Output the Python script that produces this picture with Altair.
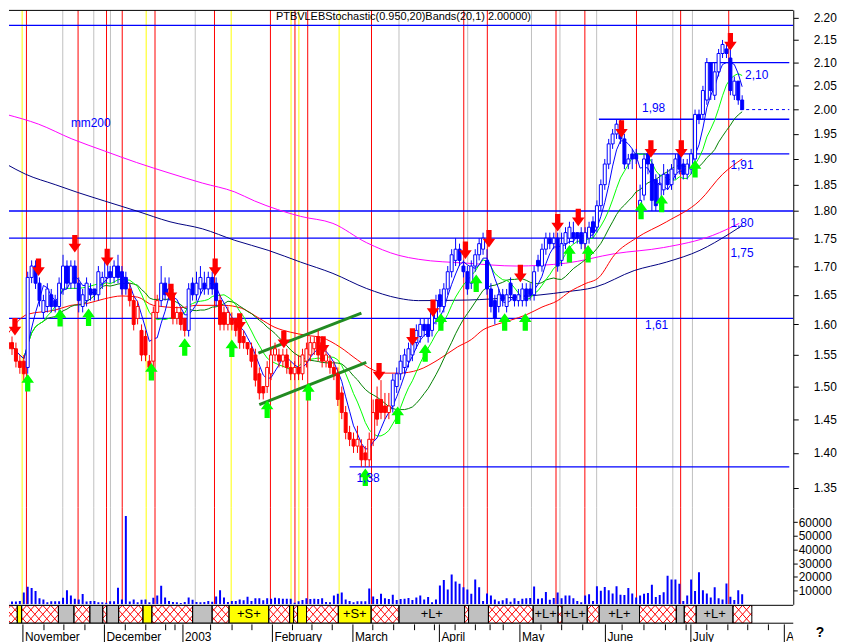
import math
import altair as alt
import pandas as pd

FONT = "Liberation Sans"

# ---------------- candles: one bar per trading day (price in cents) ----------------
OPEN = [156,157,156,154,154,153,168,170,167,162,
        163,165,164,163,166,170,167,170,167,163,
        164,166,166,165,167,168,169,168,170,169,
        168,166,164,161,159,158,154,154,162,164,
        167,165,165,161,162,161,159,167,165,166,
        167,166,168,167,164,162,160,161,161,160,
        158,157,156,155,152,150,150,152,155,155,
        154,155,153,152,153,152,154,155,156,158,
        157,154,154,153,152,149,146,143,142,141,
        141,140,139,142,148,148,147,146,147,150,
        152,153,154,155,157,158,160,160,159,161,
        165,163,166,169,171,173,170,169,167,170,
        172,173,171,166,164,163,165,163,167,165,
        164,164,166,166,165,171,170,173,175,174,
        175,171,174,175,176,176,176,174,175,178,
        177,181,185,189,193,195,196,194,189,191,
        191,181,183,191,189,186,182,184,187,185,
        187,191,189,187,188,190,199,199,202,210,
        203,208,212,213,211,203,206,202]
HIGH = [158,158,157,155,155,169,171,171,168,165,
        167,166,165,168,172,171,171,171,168,166,
        168,167,166,170,169,172,170,171,172,170,
        169,167,165,164,160,159,155,163,165,170,
        168,168,166,163,163,161,167,168,169,170,
        169,169,169,168,165,163,163,162,161,160,
        159,157,157,156,153,150,154,156,157,156,
        156,156,154,154,155,156,157,158,158,159,
        158,156,155,154,153,150,147,144,143,144,
        142,141,143,148,150,151,149,149,152,153,
        155,156,157,158,160,161,161,161,163,165,
        166,167,170,173,175,174,171,170,171,173,
        175,176,173,167,165,166,166,166,168,165,
        166,167,167,167,170,172,174,176,176,176,
        176,176,177,178,178,176,177,177,178,179,
        182,186,190,194,196,198,198,195,191,192,
        192,185,191,192,190,187,187,189,188,189,
        191,192,190,190,192,200,200,205,211,210,
        210,213,215,214,213,207,206,203]
LOW = [155,155,153,152,151,152,167,166,163,161,
       162,162,162,162,165,166,166,166,162,162,
       163,164,164,164,166,167,167,167,167,165,
       165,163,159,160,154,154,152,153,161,163,
       164,164,160,160,159,158,158,164,164,165,
       165,165,165,163,159,159,159,159,158,156,
       156,155,153,150,148,148,149,151,154,153,
       153,152,151,151,151,151,153,154,155,154,
       153,153,152,151,147,145,142,141,140,140,
       138,138,138,141,144,145,145,145,146,149,
       151,152,153,154,156,157,158,157,158,160,
       162,162,165,168,170,170,168,165,166,169,
       171,172,165,162,160,162,163,162,164,163,
       163,163,163,164,164,169,169,172,173,173,
       169,170,173,174,174,174,173,173,174,175,
       176,180,184,188,192,194,193,188,188,188,
       189,180,182,187,180,180,181,183,184,184,
       186,187,186,186,187,189,197,198,201,202,
       202,207,211,211,203,202,201,200]
CLOSE = [157,156,154,153,152,168,170,167,164,164,
         166,163,163,167,170,167,170,167,164,165,
         167,165,165,169,168,171,168,170,168,166,
         166,164,160,163,155,155,153,162,164,167,
         165,166,161,162,160,159,166,165,167,168,
         166,168,166,164,160,160,162,160,159,157,
         157,156,154,151,149,149,153,155,156,154,
         155,153,152,153,152,155,156,157,157,155,
         154,155,153,152,148,146,143,142,141,142,
         139,139,142,146,145,146,146,147,151,152,
         154,155,156,157,159,160,159,158,162,164,
         163,166,169,172,173,171,169,166,170,172,
         174,175,166,163,161,165,164,165,165,164,
         165,166,164,165,169,170,173,175,174,175,
         170,174,176,177,175,175,174,176,177,176,
         181,185,189,193,195,197,194,189,190,190,
         190,182,190,189,182,181,185,187,185,188,
         190,188,187,189,191,199,198,204,210,204,
         208,212,214,212,204,206,202,200]
# volume in thousands of shares
VOLUME_K_A = [2, 2, 2, 2.5, 8.7, 12.9, 12, 9.7, 4.4, 3.6,
              1.5, 2.2, 2.2, 2.2, 4.8, 10.2, 6.5, 4.1, 3.5, 7.5,
              2, 2.5, 2.5, 1.5, 1.5, 1.2, 2.2, 2.2, 12.1, 3.6,
              64.5, 2, 3.6, 1.5, 3.4, 3.6, 1.5, 4.8, 6.5, 13.6,
              5, 2.5, 1.7, 1.5, 1, 1.7, 5, 3.4, 1.7, 1.5,
              1.7, 2.5, 1.9, 5.8, 10.2, 5, 1.7, 2.5, 2.5, 3.6,
              2.9, 5.6, 2.5, 4.4, 4.4, 2.9, 4.4, 4.1, 4.8, 4.4,
              4.1, 4.1, 4.1, 1.2, 2.2, 3.1, 4.4, 3.9, 4.1, 3.9,
              4.4, 1.7, 1.5, 6.5, 7.7, 8.7, 3.6, 2.4, 1.5, 2.2,
              2.2, 2.2, 11.6, 5.8, 3.9, 7.7, 4.4, 3.9, 7, 3.1,
              3.9, 4.1, 4.6, 3.2, 5.0]
VOLUME_K_B = [6.5, 3.6, 5.3, 1.5, 3.6, 13.8, 17.7, 10.9, 21.8, 16.7,
              15, 12.4, 10.9, 7.8, 18.2, 12.4, 2.4, 8, 6.5, 3.6,
              2.2, 2.9, 4.4, 1.9, 4.4, 2.4, 4.1, 4.4, 4.6, 13.1,
              4.1, 4.4, 9, 3.4, 4.6, 8.7, 4.4, 6.5, 6.5, 4.4,
              2.4, 1.5, 6.5, 7.3, 2.4, 13.3, 10, 12.6, 10.2, 8,
              13.3, 7, 6.8, 11.9, 8, 4.9, 6.5, 7.7, 8.3, 14.3,
              5.3, 6.8, 8.9, 20.8, 18.2, 18.2, 15, 2.4, 6.5, 18.2,
              9.7, 23.5, 10.2, 8, 4.9, 12.4, 4.4, 3.6, 15.3, 5.6,
              3.2, 10.2, 7.3]
# stretches of bars drawn in red (down-trend colouring)
RED_SEGMENTS = [(0, 4), (31, 38), (42, 45), (54, 97)]

# ---------------- moving averages ----------------
MA_RED_U = [0, 5, 12, 16, 20, 24.5, 29, 33, 37, 44, 48, 55, 59.5, 64, 68, 72, 76, 80, 84.5, 89,
            93, 96, 99.5, 104.5, 109.5, 114.5, 118, 121, 124, 128, 132, 136, 140, 143, 147,
            150.5, 154.5, 160, 167.75, 176.25, 182, 187]
MA_RED_P = [1.585, 1.617, 1.624, 1.632, 1.635, 1.643, 1.648, 1.646, 1.632, 1.628, 1.632, 1.632,
            1.627, 1.610, 1.595, 1.587, 1.582, 1.578, 1.563, 1.542, 1.526, 1.521, 1.521, 1.526,
            1.542, 1.563, 1.575, 1.591, 1.599, 1.607, 1.616, 1.629, 1.640, 1.655, 1.669, 1.68,
            1.72, 1.75, 1.78, 1.82, 1.87, 1.90]
MA_NAVY_U = [-0.5, 4.5, 12, 17.75, 24.5, 32.75, 41.25, 49.5, 57.75, 66.25, 74.5, 82.75, 91.25,
             99.5, 104.5, 117, 129.5, 142, 149.5, 159.5, 167.75, 176.25, 183.75, 187]
MA_NAVY_P = [1.89, 1.87, 1.85, 1.835, 1.819, 1.80, 1.78, 1.767, 1.746, 1.728, 1.707, 1.687,
             1.661, 1.644, 1.640, 1.641, 1.646, 1.655, 1.663, 1.692, 1.707, 1.728, 1.758, 1.773]
MA200_U = [-0.5, 7.75, 16.25, 24.5, 32.75, 41.25, 49.5, 57.75, 62.75, 74.5, 82.75, 91.25, 99.5,
           104.5, 117, 129.5, 142, 154.5, 167, 179.5, 186.25]
MA200_P = [1.99, 1.97, 1.94, 1.916, 1.893, 1.872, 1.853, 1.836, 1.819, 1.79, 1.777, 1.742, 1.719,
           1.712, 1.705, 1.70, 1.705, 1.722, 1.733, 1.755, 1.777]

# ---------------- trend channel ----------------
TREND_U0 = [63.75, 64.0]
TREND_P0 = [1.553, 1.472]
TREND_U1 = [90.0, 91.25]
TREND_P1 = [1.619, 1.538]

# ---------------- signals ----------------
RED_ARROW_U = [1.75, 7.75, 17, 25.25, 41.5, 52.75, 59, 70.25, 80.25, 94.5, 103, 108.25, 116.5,
               122.5, 130.5, 140, 145.25, 156.25, 163.75, 171.5, 184]
RED_ARROW_P = [1.596, 1.698, 1.740, 1.715, 1.654, 1.698, 1.604, 1.575, 1.566, 1.523, 1.579,
               1.627, 1.728, 1.749, 1.687, 1.778, 1.788, 1.960, 1.920, 1.920, 2.146]
GREEN_ARROW_U = [5, 13.25, 20.5, 36.5, 45, 57, 66, 76.5, 91, 99.25, 106.25, 110.25, 119.25,
                 126.5, 131.75, 143, 147.75, 161.25, 166.5, 175]
GREEN_ARROW_P = [1.506, 1.611, 1.612, 1.523, 1.563, 1.561, 1.465, 1.492, 1.365, 1.456, 1.553,
                 1.604, 1.670, 1.604, 1.604, 1.722, 1.722, 1.801, 1.814, 1.881]

# ---------------- support / resistance levels ----------------
LEVEL_FULL = [2.183, 1.80, 1.75, 1.61]
LEVEL_PART_P = [2.10, 1.98, 1.91, 1.38]
LEVEL_PART_U = [177.5, 150.5, 160.5, 87.0]
DASH_P = [2.00]
DASH_U = [186.5]
LEVEL_END_U = 199
LEVEL_TXT = ["2,10", "1,98", "1,91", "1,80", "1,75", "1,61", "1,38", "mm200"]
LEVEL_TXT_U = [187.75, 161.5, 184, 184, 184, 162.25, 88.75, 16.0]
LEVEL_TXT_P = [2.074, 2.003, 1.888, 1.778, 1.724, 1.599, 1.364, 1.972]

# header (the reference prints several titles on top of each other)
TITLE_TXT = ["PTBVLEBStochastic(0.950,20)Bands(20,1) 2.00000)"]
TITLE_U = [68.25]
TITLE_P = 2.202

# ---------------- signal strip ----------------
BOX_START = [-0.5, 3.58, 4.68, 13.93, 17.83, 21.83, 25.08, 26.08, 29.08, 35.18, 37.43, 47.68,
             52.58, 56.83, 66.83, 72.08, 73.08, 74.08, 76.33, 84.33, 92.58, 99.58, 116.08,
             117.08, 122.08, 133.33, 139.58, 140.58, 146.93, 149.93, 160.08, 169.33, 171.33,
             174.33, 183.58]
BOX_LAST_END = 188.33
BOX_KIND = ["P", "Y", "P", "G", "P", "G", "P", "G", "P", "Y",
            "P", "G", "P", "Y", "P", "Y", "P", "Y", "P", "Y",
            "P", "G", "P", "G", "P", "G", "P", "G", "P", "G",
            "P", "G", "P", "G", "P"]
BOX_TEXT = {13: "+S+", 19: "+S+", 21: "+L+", 25: "+L+", 27: "+L+", 29: "+L+", 33: "+L+"}

# ---------------- time axis ----------------
MONTH_NAMES = ["November", "December", "2003", "February", "March", "April", "May",
               "June", "July", "Au"]
MONTH_U = [5, 25.5, 45.25, 67.75, 88, 109.75, 130, 151.5, 173, 196.5]
WEEK_U = [0.9, 10.3, 15.3, 20.6, 30.75, 35.9, 40.9, 43.25, 52.2, 57.6, 62.6, 72.8, 77.7, 82.8,
          93, 98.25, 103.5, 108.5, 113.7, 118.8, 122.5, 125.8, 135.3, 140.5, 145.8, 155.7,
          161.2, 166.6, 171.8, 177, 182.3, 187.3, 192.5]

PRICE_TICKS = [1.35, 1.40, 1.45, 1.50, 1.55, 1.60, 1.65, 1.70, 1.75, 1.80, 1.85, 1.90, 1.95,
               2.00, 2.05, 2.10, 2.15, 2.20]
VOL_TICKS = [10000, 20000, 30000, 40000, 50000, 60000]

# =====================================================================
W = 789
H_PRICE, H_VOL, H_STRIP, H_LAB = 501, 97, 18, 18
BLUE, RED, GREEN, DKGREEN = "#0000ff", "#ff0000", "#00ff00", "#008000"
KIND_FILL = {"P": "#ffffff", "Y": "#ffff00", "G": "#c0c0c0"}
KIND_LINE = {"P": RED, "Y": "#ffff00", "G": "#c0c0c0"}

XS = alt.Scale(domain=[1.5, 198.75], nice=False, zero=False)
YS = alt.Scale(type="log", domain=[1.3223, 2.2182], nice=False)
VS = alt.Scale(domain=[0, 70500], nice=False, zero=True)
SS = alt.Scale(domain=[0, 1], nice=False, zero=False)

PAXIS = alt.Axis(orient="right", values=PRICE_TICKS, format=".2f", grid=False, title=None,
                 labelFont=FONT, labelFontSize=12, labelColor="black", tickColor="black",
                 domainColor="black", tickSize=5, labelPadding=15, labelAlign="left")
VAXIS = alt.Axis(orient="right", values=VOL_TICKS, format="d", grid=False, title=None,
                 labelFont=FONT, labelFontSize=12, labelColor="black", tickColor="black",
                 domainColor="black", tickSize=4, labelPadding=1, labelAlign="left")


def X(f):
    return alt.X(f, type="quantitative", scale=XS, axis=None)


def YP(f):
    return alt.Y(f, type="quantitative", scale=YS, axis=PAXIS)


def in_red(i):
    return any(a <= i <= b for a, b in RED_SEGMENTS)


N = len(CLOSE)
VOLUME_K = VOLUME_K_A + VOLUME_K_B
rows = []
for i in range(N):
    col = RED if in_red(i) else BLUE
    o, c = OPEN[i] / 100, CLOSE[i] / 100
    rows.append(dict(u=i, o=o, h=HIGH[i] / 100, l=LOW[i] / 100, c=c, col=col,
                     fill=col if c < o else "#ffffff",
                     vol=VOLUME_K[i] * 1000 if i < len(VOLUME_K) else 0))
cdf = pd.DataFrame(rows)

# boxes
boxes = []
for k in range(len(BOX_START)):
    a = BOX_START[k]
    b = BOX_START[k + 1] if k + 1 < len(BOX_START) else BOX_LAST_END
    boxes.append(dict(a=a, b=b, kind=BOX_KIND[k], fill=KIND_FILL[BOX_KIND[k]],
                      line=KIND_LINE[BOX_KIND[k]], mid=(a + b) / 2, t=BOX_TEXT.get(k, "")))
bdf = pd.DataFrame(boxes)
vldf = bdf.iloc[1:][["a", "line"]]

# hatch lattice inside the "P" boxes
hatch = []
for bx in boxes:
    if bx["kind"] != "P":
        continue
    a, b = bx["a"], bx["b"]
    s = math.floor((a - 4) / 2) * 2
    while s <= b:
        t0 = max(0.0, (a - s) / 4.0)
        t1 = min(1.0, (b - s) / 4.0)
        if t1 > t0:
            xa, xb = s + 4 * t0, s + 4 * t1
            hatch.append(dict(x=xa, x2=xb, y=t0, y2=t1))
            hatch.append(dict(x=xa, x2=xb, y=1 - t0, y2=1 - t1))
        s += 2
hdf = pd.DataFrame(hatch)

# ---------------- price panel ----------------
vlines_p = alt.Chart(vldf).mark_rule(strokeWidth=1, clip=True).encode(
    x=X("a"), color=alt.Color("line:N", scale=None))
top_line = alt.Chart(pd.DataFrame({"k": [0]})).mark_rule(color="black", strokeWidth=1).encode(
    x=alt.value(0), x2=alt.value(W), y=alt.value(0.5))
lvl_full = alt.Chart(pd.DataFrame({"p": LEVEL_FULL})).mark_rule(
    color=BLUE, strokeWidth=1.3, clip=True).encode(y=YP("p"))
lvl_part = alt.Chart(pd.DataFrame({"p": LEVEL_PART_P, "u": LEVEL_PART_U,
                                   "e": [LEVEL_END_U] * len(LEVEL_PART_P)})).mark_rule(
    color=BLUE, strokeWidth=1.3, clip=True).encode(x=X("u"), x2="e", y=YP("p"))
lvl_dash = alt.Chart(pd.DataFrame({"p": DASH_P, "u": DASH_U, "e": [LEVEL_END_U]})).mark_rule(
    color=BLUE, strokeWidth=1, strokeDash=[3, 3], clip=True).encode(x=X("u"), x2="e", y=YP("p"))


def read_line(us, ps, color, width=1):
    return alt.Chart(pd.DataFrame({"u": us, "p": ps})).mark_line(
        color=color, strokeWidth=width, interpolate="monotone", clip=True).encode(
        x=X("u"), y=YP("p"))


def ma_line(n, color):
    return alt.Chart(cdf).transform_window(
        ma="mean(c)", frame=[-(n - 1), 0], sort=[alt.SortField("u", order="ascending")]
    ).mark_line(color=color, strokeWidth=1, clip=True).encode(x=X("u"), y=YP("ma"))


ma200 = read_line(MA200_U, MA200_P, "#ff00ff")
ma_navy = read_line(MA_NAVY_U, MA_NAVY_P, "#000080")
ma_red = read_line(MA_RED_U, MA_RED_P, RED)
ma_dk = ma_line(20, DKGREEN)
ma_lt = ma_line(10, GREEN)
ma_bl = ma_line(5, BLUE)

tr_rows = []
for k in range(len(TREND_U0)):
    tr_rows.append(dict(tid=k, u=TREND_U0[k], p=TREND_P0[k]))
    tr_rows.append(dict(tid=k, u=TREND_U1[k], p=TREND_P1[k]))
trend = alt.Chart(pd.DataFrame(tr_rows)).mark_line(
    color="#228b22", strokeWidth=3, clip=True).encode(x=X("u"), y=YP("p"), detail="tid:N")

wicks = alt.Chart(cdf).mark_rule(strokeWidth=1, clip=True).encode(
    x=X("u"), y=YP("l"), y2="h", color=alt.Color("col:N", scale=None))
bodies = alt.Chart(cdf).mark_bar(width=3, strokeWidth=1, clip=True).encode(
    x=X("u"), y=YP("o"), y2="c",
    fill=alt.Color("fill:N", scale=None), stroke=alt.Color("col:N", scale=None))

DOWN = "M-0.3,-1L0.3,-1L0.3,0L0.72,0L0,1L-0.72,0L-0.3,0Z"
UP = "M-0.3,1L0.3,1L0.3,0L0.72,0L0,-1L-0.72,0L-0.3,0Z"
red_arr = alt.Chart(pd.DataFrame({"u": RED_ARROW_U, "p": RED_ARROW_P})).mark_point(
    shape=DOWN, size=310, filled=True, color=RED, opacity=1, strokeWidth=0, clip=True).encode(
    x=X("u"), y=YP("p"))
green_arr = alt.Chart(pd.DataFrame({"u": GREEN_ARROW_U, "p": GREEN_ARROW_P})).mark_point(
    shape=UP, size=310, filled=True, color=GREEN, opacity=1, strokeWidth=0, clip=True).encode(
    x=X("u"), y=YP("p"))

lvl_txt = alt.Chart(pd.DataFrame({"u": LEVEL_TXT_U, "p": LEVEL_TXT_P, "t": LEVEL_TXT})).mark_text(
    align="left", baseline="middle", font=FONT, fontSize=12, color=BLUE, clip=True).encode(
    x=X("u"), y=YP("p"), text="t:N")
title_txt = alt.Chart(pd.DataFrame({"u": TITLE_U, "t": TITLE_TXT,
                                    "p": [TITLE_P] * len(TITLE_U)})).mark_text(
    align="left", baseline="middle", font=FONT, fontSize=11, color="black", clip=True).encode(
    x=X("u"), y=YP("p"), text="t:N")

price = alt.layer(vlines_p, top_line, lvl_full, lvl_part, lvl_dash, ma200, ma_navy, ma_red,
                  ma_dk, ma_lt, ma_bl, trend, wicks, bodies, red_arr, green_arr, lvl_txt,
                  title_txt).properties(width=W, height=H_PRICE)

# ---------------- volume panel ----------------
vlines_v = alt.Chart(vldf).mark_rule(strokeWidth=1, clip=True).encode(
    x=X("a"), color=alt.Color("line:N", scale=None))
vbars = alt.Chart(cdf).mark_bar(width=2, color=BLUE, clip=True).encode(
    x=X("u"), y=alt.Y("vol:Q", scale=VS, axis=VAXIS))
volume = alt.layer(vlines_v, vbars).properties(width=W, height=H_VOL)

# ---------------- signal strip ----------------
box_fill = alt.Chart(bdf).mark_rect(clip=True).encode(
    x=X("a"), x2="b", y=alt.value(0), y2=alt.value(H_STRIP), fill=alt.Color("fill:N", scale=None))
box_hatch = alt.Chart(hdf).mark_rule(color=RED, strokeWidth=1, clip=True).encode(
    x=X("x"), x2="x2", y=alt.Y("y:Q", scale=SS, axis=None), y2="y2")
box_line = alt.Chart(bdf).mark_rect(fillOpacity=0, stroke="black", strokeWidth=1, clip=True).encode(
    x=X("a"), x2="b", y=alt.value(0), y2=alt.value(H_STRIP))
strip_edges = alt.Chart(pd.DataFrame({"k": [0]})).mark_rule(color="black", strokeWidth=1).encode(
    x=alt.value(0), x2=alt.value(W), y=alt.value(H_STRIP))
strip_top = alt.Chart(pd.DataFrame({"k": [0]})).mark_rule(color="black", strokeWidth=1).encode(
    x=alt.value(0), x2=alt.value(W), y=alt.value(0))
box_txt = alt.Chart(bdf[bdf.t != ""]).mark_text(
    font=FONT, fontSize=13, color="black", baseline="middle").encode(
    x=X("mid"), y=alt.value(H_STRIP / 2), text="t:N")
strip = alt.layer(box_fill, box_hatch, box_line, strip_top, strip_edges, box_txt).properties(
    width=W, height=H_STRIP)

# ---------------- month labels ----------------
mdf = pd.DataFrame({"u": MONTH_U, "name": MONTH_NAMES})
wticks = alt.Chart(pd.DataFrame({"u": WEEK_U})).mark_rule(color="black", clip=True).encode(
    x=X("u"), y=alt.value(0), y2=alt.value(6))
mticks = alt.Chart(mdf).mark_rule(color="black", clip=True).encode(
    x=X("u"), y=alt.value(0), y2=alt.value(H_LAB))
mlabels = alt.Chart(mdf).mark_text(align="left", baseline="middle", dx=2, font=FONT,
                                   fontSize=12, color="black", clip=True).encode(
    x=X("u"), y=alt.value(12.5), text="name:N")
qmark = alt.Chart(pd.DataFrame({"u": [205.5], "t": ["?"]})).mark_text(
    font=FONT, fontSize=14, fontWeight="bold", color="black", baseline="middle").encode(
    x=X("u"), y=alt.value(9), text="t:N")
labels = alt.layer(wticks, mticks, mlabels, qmark).properties(width=W, height=H_LAB)

chart = alt.vconcat(price, volume, strip, labels, spacing=0).properties(
    padding=0, background="white"
).configure_view(strokeWidth=0)

chart.save("out.html", embed_options={"renderer": "svg", "actions": False})
